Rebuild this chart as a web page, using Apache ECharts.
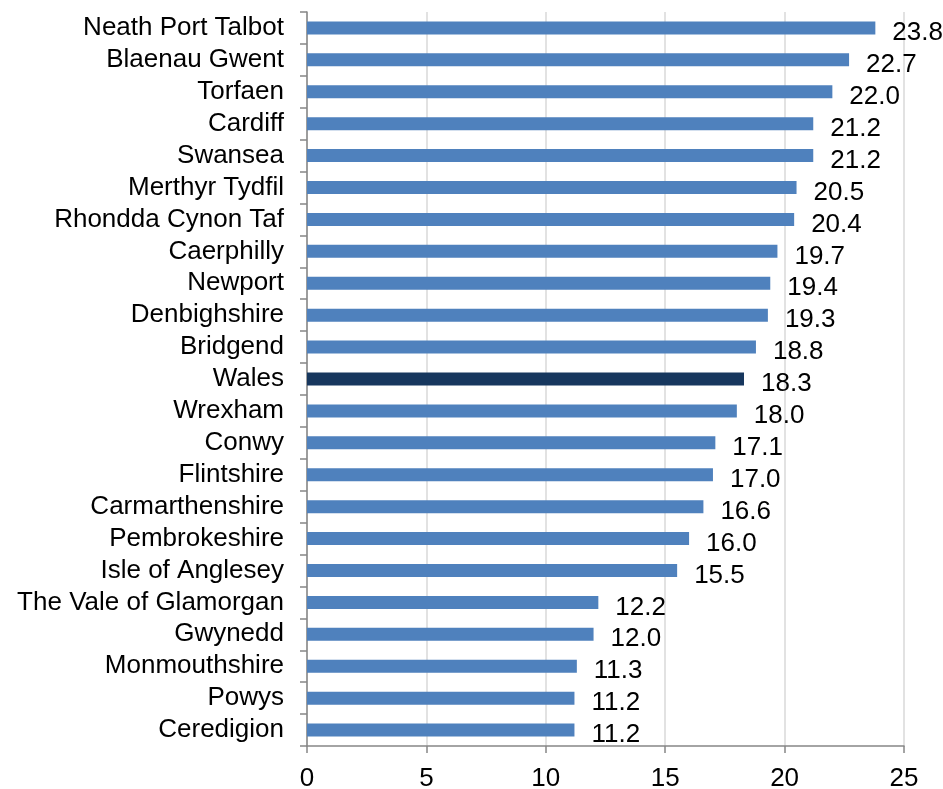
<!DOCTYPE html>
<html>
<head>
<meta charset="utf-8">
<script src="https://cdn.jsdelivr.net/npm/echarts@6/dist/echarts.min.js"></script>
<style>
  html, body { margin: 0; padding: 0; background: #fff; }
  #chart { width: 943px; height: 789px; }
</style>
</head>
<body>
<div id="chart"></div>
<script>
const categories = [
  "Neath Port Talbot", "Blaenau Gwent", "Torfaen", "Cardiff", "Swansea",
  "Merthyr Tydfil", "Rhondda Cynon Taf", "Caerphilly", "Newport", "Denbighshire",
  "Bridgend", "Wales", "Wrexham", "Conwy", "Flintshire", "Carmarthenshire",
  "Pembrokeshire", "Isle of Anglesey", "The Vale of Glamorgan", "Gwynedd",
  "Monmouthshire", "Powys", "Ceredigion"
];
const values = [
  23.8, 22.7, 22.0, 21.2, 21.2, 20.5, 20.4, 19.7, 19.4, 19.3,
  18.8, 18.3, 18.0, 17.1, 17.0, 16.6, 16.0, 15.5, 12.2, 12.0,
  11.3, 11.2, 11.2
];
const highlight = "Wales";

const chart = echarts.init(document.getElementById("chart"));
chart.setOption({
  animation: false,
  textStyle: { fontFamily: "Liberation Sans, Arial, sans-serif" },
  grid: { left: 307, right: 39, top: 12, bottom: 43, containLabel: false, outerBoundsMode: "none" },
  xAxis: {
    type: "value",
    min: 0, max: 25, interval: 5,
    axisLine: { show: true, lineStyle: { color: "#868686", width: 1.5 } },
    axisTick: { show: true, length: 7, lineStyle: { color: "#868686", width: 1.5 } },
    axisLabel: { color: "#000", fontSize: 26, margin: 20 },
    splitLine: { show: true, lineStyle: { color: "#d9d9d9", width: 1.5 } }
  },
  yAxis: {
    type: "category",
    inverse: true,
    data: categories,
    axisLine: { show: true, lineStyle: { color: "#868686", width: 1.5 } },
    axisTick: { show: true, length: 7, lineStyle: { color: "#868686", width: 1.5 } },
    axisLabel: { color: "#000", fontSize: 26, margin: 23, interval: 0, padding: [3, 0, 0, 0] }
  },
  series: [{
    type: "bar",
    barWidth: 13,
    data: values.map((v, i) => ({
      value: v,
      itemStyle: { color: categories[i] === highlight ? "#17375e" : "#4f81bd" }
    })),
    label: {
      show: true,
      position: "right",
      distance: 17,
      offset: [0, 5],
      color: "#000",
      fontSize: 26,
      formatter: p => p.value.toFixed(1)
    }
  }]
});
</script>
</body>
</html>
